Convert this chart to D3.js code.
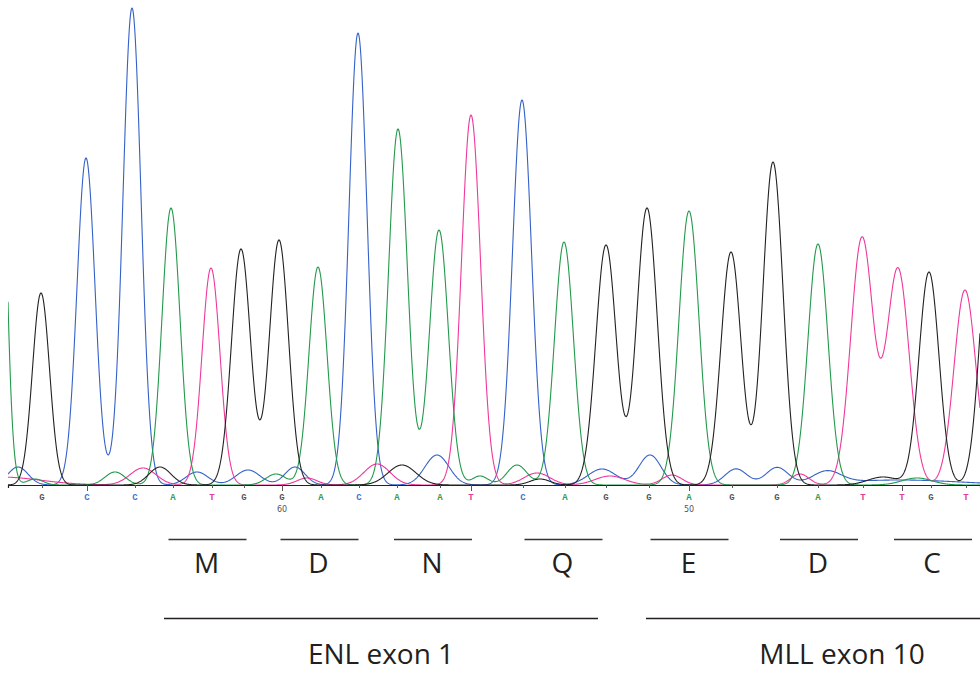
<!DOCTYPE html>
<html>
<head>
<meta charset="utf-8">
<script src="https://cdn.jsdelivr.net/npm/d3@7"></script>
<style>
  html, body { margin: 0; padding: 0; background: #fff; }
  svg { display: block; }
</style>
</head>
<body>
<div id="chart"></div>
<script>
// ---------- DATA ----------
// Base calls (scan position of each called base)
const baseLetters = ["G","C","C","A","T","G","G","A","C","A","A","T","C","A","G","G","A","G","G","A","T","T","G","T"];
const baseScans   = [34, 79, 127, 165, 204, 236, 274, 313, 351, 389, 432, 463, 515, 557, 598, 641, 681, 724, 769, 810, 855, 894, 923, 958];
const baseNumbers = [66, 65, 64, 63, 62, 61, 60, 59, 58, 57, 56, 55, 54, 53, 52, 51, 50, 49, 48, 47, 46, 45, 44, 43];
const numberLabels = [60, 50];

// Trace peaks per dye channel: [scan, signal height, peak width]
const peaksG = [[33,192,8.5],[152,18,11],[233,236,9.5],[271,245,9.5],[394,20,14],[532,6,10],
                [598,240,10.2],[639,277,10.2],[723,233,10],[765,323,10],[875,8,15],[921,213,10],[982,250,10]];
const peaksA = [[-10,508,7],[27,6,8],[107,13,10],[163,277,9],[268,11,10],[310,218,9],[390,356,9.4],
                [431,255,9.4],[472,9,8],[509,20,10],[556,243,9.5],[681,274,10],[810,241,10],[909,7,15]];
const peaksT = [[-8,8,40],[135,17,13],[203,217,9],[299,7,10],[369,21,13],[463,370,9.5],[529,12,13],
                [602,9,15],[664,10,10],[792,11,9],[854,247,11.2],[890,216,11.2],[957,195,11]];
const peaksC = [[10,18,10],[78,327,9],[124,477,9],[189,13,11],[240,15,12],[287,18,10],[350,452,9],
                [429,30,12],[514,385,9.5],[594,16,14],[642,30,11],[728,16,11],[769,17,11],[819,12,14],[892,5,60]];

// Amino-acid codons: [letter, first base index, last base index]
const aminoAcids = [["M",3,5],["D",6,8],["N",9,11],["Q",12,14],["E",15,17],["D",18,20],["C",21,23]];
// Exons: [label, start scan, end scan]
const exons = [["ENL exon 1",156,590],["MLL exon 10",638,1030]];

// ---------- STYLES ----------
const channelColor = { G: "#222222", A: "#23994c", T: "#f0389c", C: "#3461c8" };
const labelColor   = { G: "#555555", A: "#3a9a4a", T: "#e0409a", C: "#4a6ed0" };

// ---------- CHART ----------
const W = 980, H = 675;
const svg = d3.select("#chart").append("svg").attr("width", W).attr("height", H);

const x = d3.scaleLinear().domain([0, 972]).range([8, 980]);
const y = d3.scaleLinear().domain([0, 477]).range([485, 8]);

svg.append("clipPath").attr("id", "plotclip")
  .append("rect").attr("x", 8).attr("y", 0).attr("width", 972).attr("height", 486);

// sampling grid in scan units
const grid = d3.range(0, 972.01, 0.5);
function traceOf(peaks) {
  return grid.map(s => [s, d3.sum(peaks, p => p[1] * Math.exp(-((s - p[0]) ** 2) / (2 * p[2] * p[2])))]);
}
const line = d3.line().x(d => x(d[0])).y(d => y(d[1]));

const traces = [["C", peaksC], ["T", peaksT], ["A", peaksA], ["G", peaksG]];
const tg = svg.append("g").attr("clip-path", "url(#plotclip)");
tg.selectAll("path").data(traces).join("path")
  .attr("d", d => line(traceOf(d[1])))
  .attr("fill", "none")
  .attr("stroke", d => channelColor[d[0]])
  .attr("stroke-width", 1.1)
  .attr("stroke-linejoin", "round");

// baseline axis
const axis = d3.axisBottom(x)
  .tickValues(baseScans)
  .tickSizeOuter(0)
  .tickSize(3)
  .tickFormat("");
const ag = svg.append("g").attr("transform", `translate(0,${y(0)})`).call(axis);
ag.select(".domain").attr("stroke", "#222").attr("stroke-width", 1.2);
ag.selectAll(".tick line").attr("stroke", "#555")
  .attr("y2", (d, i) => (baseNumbers[i] % 5 === 0 ? 6 : 3));

// base letters
svg.append("g").selectAll("text").data(baseLetters).join("text")
  .attr("x", (d, i) => x(baseScans[i]))
  .attr("y", 500)
  .attr("text-anchor", "middle")
  .attr("font-family", "'Liberation Mono', 'DejaVu Sans Mono', monospace")
  .attr("font-size", 9)
  .attr("font-weight", "bold")
  .attr("fill", d => labelColor[d])
  .text(d => d);

// position numbers
svg.append("g").selectAll("text").data(numberLabels).join("text")
  .attr("x", d => x(baseScans[baseNumbers.indexOf(d)]))
  .attr("y", 512)
  .attr("text-anchor", "middle")
  .attr("font-family", "'DejaVu Sans', sans-serif")
  .attr("font-size", 8)
  .attr("fill", "#555")
  .text(d => d);

// amino acids
const aaG = svg.append("g");
const aaCenter = d => (x(baseScans[d[1]]) + x(baseScans[d[2]])) / 2;
aaG.selectAll("line").data(aminoAcids).join("line")
  .attr("x1", d => aaCenter(d) - 40).attr("x2", d => aaCenter(d) + 38)
  .attr("y1", 539.5).attr("y2", 539.5)
  .attr("stroke", "#333").attr("stroke-width", 1.3);
aaG.selectAll("text").data(aminoAcids).join("text")
  .attr("x", d => aaCenter(d) - 2)
  .attr("y", 573)
  .attr("text-anchor", "middle")
  .attr("font-family", "'Open Sans', sans-serif")
  .attr("font-size", 28)
  .attr("fill", "#231f20")
  .text(d => d[0]);

// exons
const exG = svg.append("g");
exG.selectAll("line").data(exons).join("line")
  .attr("x1", d => x(d[1])).attr("x2", d => x(d[2]))
  .attr("y1", 618.5).attr("y2", 618.5)
  .attr("stroke", "#231f20").attr("stroke-width", 1.4);
exG.selectAll("text").data(exons).join("text")
  .attr("x", d => (x(d[1]) + x(d[2])) / 2)
  .attr("y", 664)
  .attr("text-anchor", "middle")
  .attr("font-family", "'Open Sans', sans-serif")
  .attr("font-size", 28)
  .attr("fill", "#231f20")
  .text(d => d[0]);
</script>
</body>
</html>
